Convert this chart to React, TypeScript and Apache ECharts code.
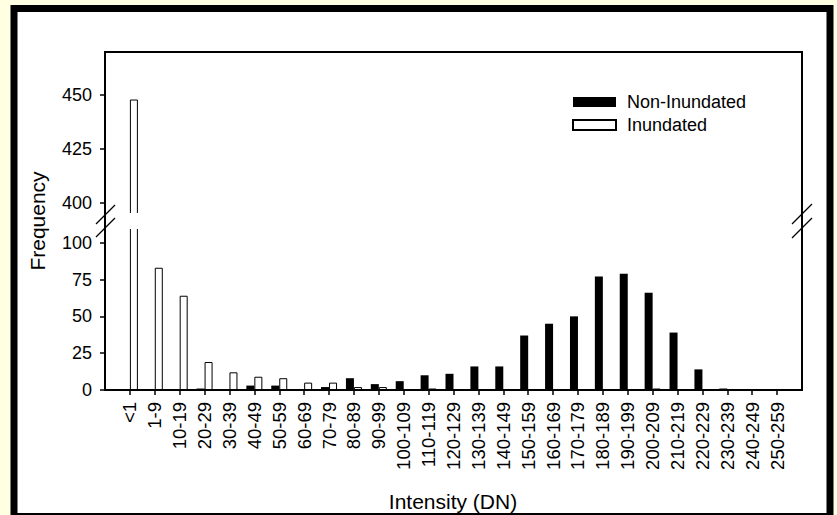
import React, { useEffect, useRef } from "react";
import * as echarts from "echarts";

const categories = [
  "<1", "1-9", "10-19", "20-29", "30-39", "40-49", "50-59", "60-69", "70-79",
  "80-89", "90-99", "100-109", "110-119", "120-129", "130-139", "140-149",
  "150-159", "160-169", "170-179", "180-189", "190-199", "200-209", "210-219",
  "220-229", "230-239", "240-249", "250-259",
];
const nonInundated = [0, 0, 0, 1, 0, 3, 3, 0, 2, 8, 4, 6, 10, 11, 16, 16, 37, 45, 50, 77, 79, 66, 39, 14, 1, 0, 0];
const inundated = [448, 83, 64, 19, 12, 9, 8, 5, 5, 2, 2, 0, 1, 0, 0, 0, 0, 0, 0, 0, 0, 1, 0, 0, 0, 0, 0];
const lowerTicks = [0, 25, 50, 75, 100];
const upperTicks = [400, 425, 450];
const lowerRange = [0, 110];
const upperRange = [395, 470];

const FONT = "'Liberation Sans', Arial, Helvetica, sans-serif";

export default function App() {
  const ref = useRef<HTMLDivElement>(null);
  useEffect(() => {
    if (!ref.current) return;
    const chart = echarts.init(ref.current, null, { renderer: "svg" });
    const xData = ["", ...categories, ""];
    const pad = (arr: number[], min: number) => ["-", ...arr.map((v) => (v > min || min === 0 ? v : "-")), "-"];
    const tickStyle = { color: "#000", width: 1.5 };
    const xAxisBase = {
      type: "category",
      data: xData,
      boundaryGap: false,
      axisLine: { show: false },
      splitLine: { show: false },
    };
    const yAxisBase = (range: number[], ticks: number[], gridIndex: number) => ({
      type: "value",
      gridIndex,
      min: range[0],
      max: range[1],
      axisLine: { show: false },
      splitLine: { show: false },
      axisTick: { show: true, inside: false, length: 5, lineStyle: tickStyle, customValues: ticks },
      axisLabel: { customValues: ticks, fontSize: 18, color: "#000", margin: 13, fontFamily: FONT },
    });
    const nonStyle = { color: "#000" };
    const inStyle = { color: "#fff", borderColor: "#000", borderWidth: 1 };
    const mkSeries = (gi: number, min: number) => [
      {
        name: "Non-Inundated", type: "bar", xAxisIndex: gi, yAxisIndex: gi,
        data: pad(nonInundated, min), barWidth: 8, barGap: "0%", itemStyle: nonStyle, clip: true,
      },
      {
        name: "Inundated", type: "bar", xAxisIndex: gi, yAxisIndex: gi,
        data: pad(inundated, min), barWidth: 8, barGap: "0%", itemStyle: inStyle, clip: true,
      },
    ];
    const option: any = {
      animation: false,
      backgroundColor: "#FFFFE1",
      textStyle: { fontFamily: FONT },
      grid: [
        { left: 105, right: 35, top: 228, height: 162 },
        { left: 105, right: 35, top: 52, height: 162 },
      ],
      xAxis: [
        {
          ...xAxisBase,
          gridIndex: 0,
          axisTick: {
            show: true, inside: false, length: 5, lineStyle: tickStyle,
            interval: (i: number) => i > 0 && i < xData.length - 1,
          },
          axisLabel: { interval: 0, rotate: 90, fontSize: 18.5, color: "#000", margin: 12, fontFamily: FONT },
        },
        { ...xAxisBase, gridIndex: 1, show: false },
      ],
      yAxis: [yAxisBase(lowerRange, lowerTicks, 0), yAxisBase(upperRange, upperTicks, 1)],
      legend: {
        orient: "vertical",
        left: 572,
        top: 93,
        padding: 0,
        itemWidth: 43,
        itemHeight: 10,
        itemGap: 5,
        icon: "rect",
        data: ["Non-Inundated", "Inundated"],
        textStyle: { fontSize: 18, color: "#000", lineHeight: 18, padding: [0, 0, 0, 6], fontFamily: FONT },
      },
      series: [...mkSeries(0, 0), ...mkSeries(1, upperRange[0])],
      graphic: [
        {
          type: "rect", z: -10, silent: true,
          shape: { x: 14, y: 8.5, width: 816, height: 508 },
          style: { fill: "#fff", stroke: "#000", lineWidth: 7 },
        },
        {
          type: "rect", z: 50, silent: true,
          shape: { x: 106, y: 213, width: 695, height: 16 },
          style: { fill: "#fff" },
        },
        {
          type: "rect", z: 60, silent: true,
          shape: { x: 105, y: 52, width: 697, height: 338 },
          style: { fill: "none", stroke: "#000", lineWidth: 2 },
        },
        { type: "line", z: 70, shape: { x1: 96, y1: 224, x2: 115, y2: 205 }, style: { stroke: "#000", lineWidth: 1.2 } },
        { type: "line", z: 70, shape: { x1: 96, y1: 237, x2: 115, y2: 218 }, style: { stroke: "#000", lineWidth: 1.2 } },
        { type: "line", z: 70, shape: { x1: 792, y1: 224, x2: 812, y2: 204 }, style: { stroke: "#000", lineWidth: 1.2 } },
        { type: "line", z: 70, shape: { x1: 792, y1: 238, x2: 812, y2: 218 }, style: { stroke: "#000", lineWidth: 1.2 } },
        {
          type: "text", z: 70, x: 37, y: 221, rotation: Math.PI / 2,
          style: {
            text: "Frequency", fill: "#000", fontSize: 21, fontFamily: FONT,
            align: "center", verticalAlign: "middle", textAlign: "center", textVerticalAlign: "middle",
          },
        },
        {
          type: "text", z: 70, x: 453, y: 501,
          style: {
            text: "Intensity (DN)", fill: "#000", fontSize: 21, fontFamily: FONT,
            align: "center", verticalAlign: "middle", textAlign: "center", textVerticalAlign: "middle",
          },
        },
      ],
    };
    chart.setOption(option);
    return () => chart.dispose();
  }, []);
  return <div ref={ref} style={{ position: "absolute", left: 0, top: 0, width: 837, height: 515 }} />;
}
